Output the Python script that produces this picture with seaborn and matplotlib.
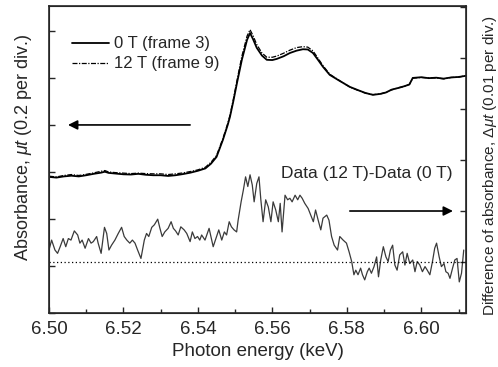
import matplotlib
matplotlib.use("Agg")
import matplotlib.pyplot as plt
import seaborn as sns
from matplotlib.ticker import MultipleLocator, NullFormatter

# absorbance spectra (left axis, absorbance units)
energy_abs = [6.500, 6.502, 6.504, 6.506, 6.508, 6.510, 6.512, 6.514, 6.515, 6.516,
              6.518, 6.520, 6.522, 6.524, 6.526, 6.528, 6.530, 6.532, 6.534, 6.536,
              6.538, 6.540, 6.542, 6.5435, 6.545, 6.5467, 6.548, 6.5486, 6.5495, 6.5505,
              6.5518, 6.5532, 6.554, 6.5548, 6.5558, 6.5572, 6.5585, 6.560, 6.5612, 6.563,
              6.5647, 6.5665, 6.5682, 6.5695, 6.5709, 6.5722, 6.5736, 6.5754, 6.578, 6.5808,
              6.583, 6.585, 6.587, 6.589, 6.5905, 6.592, 6.594, 6.5955, 6.5968, 6.5977,
              6.600, 6.602, 6.604, 6.606, 6.608, 6.610, 6.612]
abs_0T = [0.579, 0.576, 0.581, 0.584, 0.581, 0.586, 0.592, 0.597, 0.601, 0.596,
          0.593, 0.590, 0.589, 0.592, 0.588, 0.586, 0.586, 0.583, 0.586, 0.591,
          0.597, 0.605, 0.615, 0.635, 0.664, 0.736, 0.800, 0.834, 0.900, 0.979,
          1.077, 1.162, 1.191, 1.165, 1.128, 1.095, 1.077, 1.076, 1.081, 1.092,
          1.106, 1.116, 1.122, 1.121, 1.106, 1.078, 1.047, 1.013, 0.988, 0.962,
          0.948, 0.936, 0.928, 0.932, 0.938, 0.950, 0.958, 0.965, 0.972, 1.000,
          1.003, 0.999, 1.001, 0.997, 1.002, 1.004, 1.009]
abs_12T = [0.582, 0.579, 0.585, 0.589, 0.585, 0.590, 0.596, 0.603, 0.606, 0.600,
           0.597, 0.595, 0.593, 0.595, 0.593, 0.592, 0.592, 0.589, 0.592, 0.596,
           0.602, 0.609, 0.620, 0.641, 0.670, 0.742, 0.806, 0.841, 0.908, 0.990,
           1.092, 1.178, 1.205, 1.180, 1.142, 1.106, 1.088, 1.088, 1.093, 1.105,
           1.118, 1.129, 1.133, 1.131, 1.115, 1.085, 1.052, 1.016, 0.989, 0.961,
           0.947, 0.935, 0.929, 0.932, 0.939, 0.949, 0.959, 0.964, 0.973, 0.999,
           1.002, 1.000, 1.000, 0.996, 1.002, 1.003, 1.010]

# difference 12 T - 0 T (right axis, in units of 1e-3)
energy_diff = [6.5000, 6.5007, 6.5016, 6.5023, 6.5030, 6.5038, 6.5045, 6.5052, 6.5059, 6.5068,
               6.5077, 6.5083, 6.5089, 6.5097, 6.5106, 6.5113, 6.5119, 6.5128, 6.5132, 6.5140,
               6.5149, 6.5155, 6.5161, 6.5168, 6.5177, 6.5186, 6.5195, 6.5202, 6.5209, 6.5217,
               6.5224, 6.5231, 6.5238, 6.5247, 6.5256, 6.5262, 6.5268, 6.5276, 6.5283, 6.5292,
               6.5298, 6.5304, 6.5311, 6.5320, 6.5328, 6.5334, 6.5340, 6.5347, 6.5354, 6.5363,
               6.5370, 6.5379, 6.5385, 6.5392, 6.5399, 6.5405, 6.5410, 6.5419, 6.5430, 6.5437,
               6.5441, 6.5450, 6.5456, 6.5464, 6.5471, 6.5477, 6.5484, 6.5490, 6.5497, 6.5504,
               6.5508, 6.5516, 6.5522, 6.5528, 6.5534, 6.5540, 6.5546, 6.5551, 6.5558, 6.5564,
               6.5569, 6.5575, 6.5582, 6.5589, 6.5596, 6.5602, 6.5609, 6.5616, 6.5621, 6.5626,
               6.5634, 6.5641, 6.5647, 6.5653, 6.5661, 6.5668, 6.5674, 6.5680, 6.5687, 6.5696,
               6.5703, 6.5710, 6.5716, 6.5723, 6.5730, 6.5736, 6.5746, 6.5752, 6.5759, 6.5766,
               6.5775, 6.5781, 6.5790, 6.5799, 6.5806, 6.5813, 6.5819, 6.5824, 6.5830, 6.5837,
               6.5842, 6.5848, 6.5855, 6.5860, 6.5866, 6.5873, 6.5880, 6.5885, 6.5891, 6.5898,
               6.5905, 6.5911, 6.5917, 6.5923, 6.5929, 6.5935, 6.5942, 6.5950, 6.5956, 6.5962,
               6.5969, 6.5977, 6.5983, 6.5989, 6.5996, 6.6003, 6.6010, 6.6016, 6.6023, 6.6030,
               6.6036, 6.6041, 6.6048, 6.6054, 6.6061, 6.6066, 6.6072, 6.6077, 6.6084, 6.6090,
               6.6096, 6.6102, 6.6108, 6.6114]
diff_vals = [2.35, 4.3, 2.35, 1.7, 3.0, 4.6, 3.0, 4.6, 4.3, 6.1,
             5.3, 3.7, 4.3, 2.7, 4.6, 3.7, 4.0, 5.0, 3.7, 1.7,
             6.8, 5.6, 2.35, 3.3, 4.3, 5.6, 6.8, 5.0, 4.3, 3.7,
             4.3, 3.7, 2.35, 0.7, 4.3, 5.6, 5.0, 6.8, 7.3, 8.4,
             6.6, 5.0, 5.9, 6.6, 7.9, 6.6, 6.1, 5.3, 6.9, 6.3,
             5.6, 4.0, 5.9, 4.6, 5.0, 4.3, 5.3, 4.3, 6.6, 4.3,
             3.0, 5.0, 6.3, 4.3, 5.9, 5.3, 7.9, 6.9, 6.3, 5.9,
             8.2, 11.8, 14.1, 16.7, 14.8, 17.1, 15.1, 11.8, 15.4, 16.7,
             12.2, 7.9, 12.2, 10.8, 7.9, 11.8, 10.2, 7.9, 11.5, 5.9,
             13.1, 12.2, 12.5, 11.8, 13.1, 12.2, 13.1, 12.5, 11.5, 10.5,
             9.2, 7.9, 10.2, 8.2, 6.3, 8.6, 9.2, 8.2, 5.0, 3.3,
             2.35, 5.0, 4.3, 3.7, 2.0, 0.1, -2.5, -1.6, -2.5, -1.2,
             -2.5, -3.5, -1.9, -1.2, -2.2, -0.9, 1.0, -2.9, 0.4, 3.0,
             1.0, 0.1, 2.35, 3.3, -0.6, -1.6, 1.4, 2.0, -0.6, 1.7,
             -0.3, 0.4, -1.9, 0.1, -0.6, -1.9, -0.9, -1.6, -2.5, 0.1,
             2.7, 3.7, 1.0, -0.9, -0.3, -1.9, -2.2, -3.2, -1.2, 0.4,
             0.7, -3.9, -2.2, 2.35]

sns.set_style("ticks")
plt.rcParams["font.family"] = ["Liberation Sans", "DejaVu Sans"]
plt.rcParams["mathtext.fontset"] = "custom"
plt.rcParams["mathtext.rm"] = "Liberation Sans"
plt.rcParams["mathtext.it"] = "Liberation Sans:italic"

fig = plt.figure(figsize=(4.98, 3.67), dpi=100)
ax = fig.add_axes([0.0984, 0.1471, 0.8373, 0.8366])

sns.lineplot(x=energy_abs, y=abs_0T, ax=ax, color="black", lw=1.3,
             label="0 T (frame 3)")
sns.lineplot(x=energy_abs, y=abs_12T, ax=ax, color="black", lw=0.9,
             dashes=False, linestyle=(0, (4, 1.2, 1, 1.2)), label="12 T (frame 9)")

ax.set_xlim(6.50, 6.612)
ax.set_ylim(0, 1.306)
ax.xaxis.set_major_locator(MultipleLocator(0.02))
ax.xaxis.set_minor_locator(MultipleLocator(0.01))
ax.xaxis.set_major_formatter(plt.FormatStrFormatter("%.2f"))
ax.yaxis.set_major_locator(MultipleLocator(0.2))
ax.yaxis.set_major_formatter(NullFormatter())
ax.tick_params(axis="x", which="major", direction="in", length=4, width=1,
               labelsize=13.5, pad=6, top=False)
ax.tick_params(axis="x", which="minor", direction="in", length=3, width=1, top=False)
ax.tick_params(axis="y", direction="in", length=4, width=1, right=False)
for s in ax.spines.values():
    s.set_linewidth(1.2)

ax.set_xlabel("Photon energy (keV)", fontsize=13.5, labelpad=3)
ax.set_ylabel(r"Absorbance, $\mu t$ (0.2 per div.)", fontsize=13)
ax.yaxis.set_label_coords(-0.036, 0.539)

leg = ax.legend(loc="upper left", bbox_to_anchor=(0.02, 0.95), frameon=False,
                fontsize=12, handlelength=2.2, handletextpad=0.3, labelspacing=0.3)

ax.annotate("", xy=(6.5051, 0.8), xytext=(6.5379, 0.8),
            arrowprops=dict(arrowstyle="-|>", color="black", lw=1.2,
                            mutation_scale=14, shrinkA=0, shrinkB=0))

ax2 = ax.twinx()
sns.lineplot(x=energy_diff, y=diff_vals, ax=ax2, color="#3a3a3a", lw=0.9)
ax2.axhline(0, color="black", lw=0.9, ls=(0, (1, 2)))
ax2.set_ylim(-10, 50.2)
ax2.yaxis.set_major_locator(MultipleLocator(10))
ax2.yaxis.set_major_formatter(NullFormatter())
ax2.tick_params(axis="y", direction="in", length=4, width=1)
ax2.set_ylabel(r"Difference of absorbance, $\Delta\mu t$ (0.01 per div.)", fontsize=11)
ax2.yaxis.set_label_coords(1.035, 0.48)

ax2.annotate("", xy=(6.6085, 10), xytext=(6.5808, 10),
             arrowprops=dict(arrowstyle="-|>", color="black", lw=1.2,
                             mutation_scale=14, shrinkA=0, shrinkB=0))
ax2.text(6.5853, 17.3, "Data (12 T)-Data (0 T)", fontsize=12.5,
         ha="center", va="center")

fig.savefig("out.png", dpi=100)
